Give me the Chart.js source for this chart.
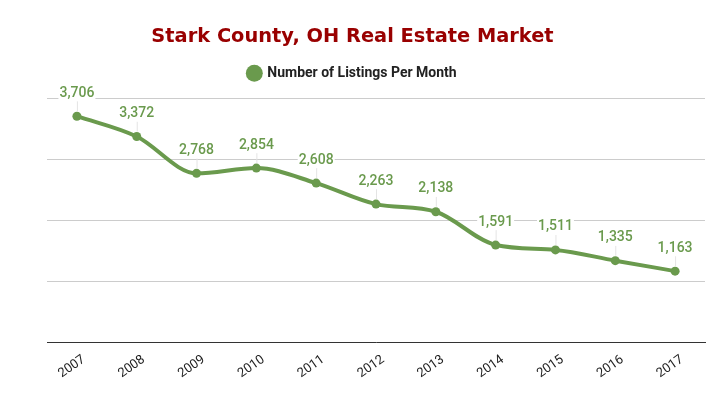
<!DOCTYPE html>
<html>
<head>
<meta charset="utf-8">
<script src="https://cdn.jsdelivr.net/npm/chart.js@4"></script>
<style>
  html, body { margin: 0; padding: 0; background: #fff; }
  #wrap { width: 713px; height: 393px; position: relative; }
</style>
</head>
<body>
<div id="wrap"><canvas id="chart"></canvas></div>
<script>
const years = ['2007', '2008', '2009', '2010', '2011', '2012', '2013', '2014', '2015', '2016', '2017'];
const listings = [3706, 3372, 2768, 2854, 2608, 2263, 2138, 1591, 1511, 1335, 1163];
const yTicks = [0, 1000, 2000, 3000, 4000];

const green = '#6a9a4d';

// labels above each point, white box with a thin leader line
const pointLabels = {
    id: 'pointLabels',
    afterDatasetsDraw(chart) {
        const ctx = chart.ctx;
        const meta = chart.getDatasetMeta(0);
        ctx.save();
        ctx.font = '500 14px Roboto';
        ctx.textAlign = 'center';
        ctx.textBaseline = 'middle';
        meta.data.forEach((pt, i) => {
            const txt = listings[i].toLocaleString('en-US');
            const ty = pt.y - 23;
            ctx.strokeStyle = '#e4e4e4';
            ctx.lineWidth = 1;
            ctx.beginPath();
            ctx.moveTo(pt.x + 0.5, ty + 8);
            ctx.lineTo(pt.x + 0.5, pt.y - 5);
            ctx.stroke();
            const w = ctx.measureText(txt).width;
            ctx.fillStyle = '#fff';
            ctx.fillRect(pt.x - w / 2 - 1, ty - 8, w + 2, 16);
            ctx.fillStyle = green;
            ctx.fillText(txt, pt.x, ty);
        });
        ctx.restore();
    }
};

// extra space under the legend
const legendGap = {
    id: 'legendGap',
    beforeInit(chart) {
        const fit = chart.legend.fit;
        chart.legend.fit = function () {
            fit.bind(chart.legend)();
            this.height += 8;
        };
    }
};

new Chart(document.getElementById('chart'), {
    type: 'line',
    data: {
        labels: years,
        datasets: [{
            label: 'Number of Listings Per Month',
            data: listings,
            borderColor: green,
            backgroundColor: green,
            borderWidth: 4,
            pointRadius: 4.5,
            pointBackgroundColor: green,
            pointBorderWidth: 0,
            cubicInterpolationMode: 'monotone'
        }]
    },
    options: {
        responsive: true,
        maintainAspectRatio: false,
        animation: false,
        layout: { padding: { left: 0, right: 8, top: 0, bottom: 0 } },
        plugins: {
            title: {
                display: true,
                text: 'Stark County, OH Real Estate Market',
                color: '#990000',
                font: { family: 'DejaVu Sans', size: 19.4, weight: 'bold' },
                padding: { top: 25, bottom: 8 }
            },
            legend: {
                labels: {
                    usePointStyle: true,
                    pointStyle: 'circle',
                    boxWidth: 12,
                    boxHeight: 12,
                    color: '#222',
                    font: { family: 'Roboto', size: 14, weight: 'bold' },
                    padding: 10
                }
            },
            tooltip: { enabled: false }
        },
        scales: {
            x: {
                offset: true,
                grid: { display: false },
                border: { color: '#333', width: 1 },
                afterFit(axis) { axis.height = 51; },
                ticks: {
                    color: '#222',
                    font: { family: 'Roboto', size: 13 },
                    maxRotation: 35,
                    minRotation: 35,
                    padding: 2,
                    labelOffset: 7
                }
            },
            y: {
                min: yTicks[0],
                max: yTicks[yTicks.length - 1],
                afterBuildTicks(axis) {
                    axis.ticks = yTicks.map(v => ({ value: v }));
                },
                afterFit(axis) { axis.width = 47; },
                ticks: { display: false },
                border: { display: false },
                grid: { color: '#cccccc', drawTicks: false }
            }
        }
    },
    plugins: [pointLabels, legendGap]
});
</script>
</body>
</html>
